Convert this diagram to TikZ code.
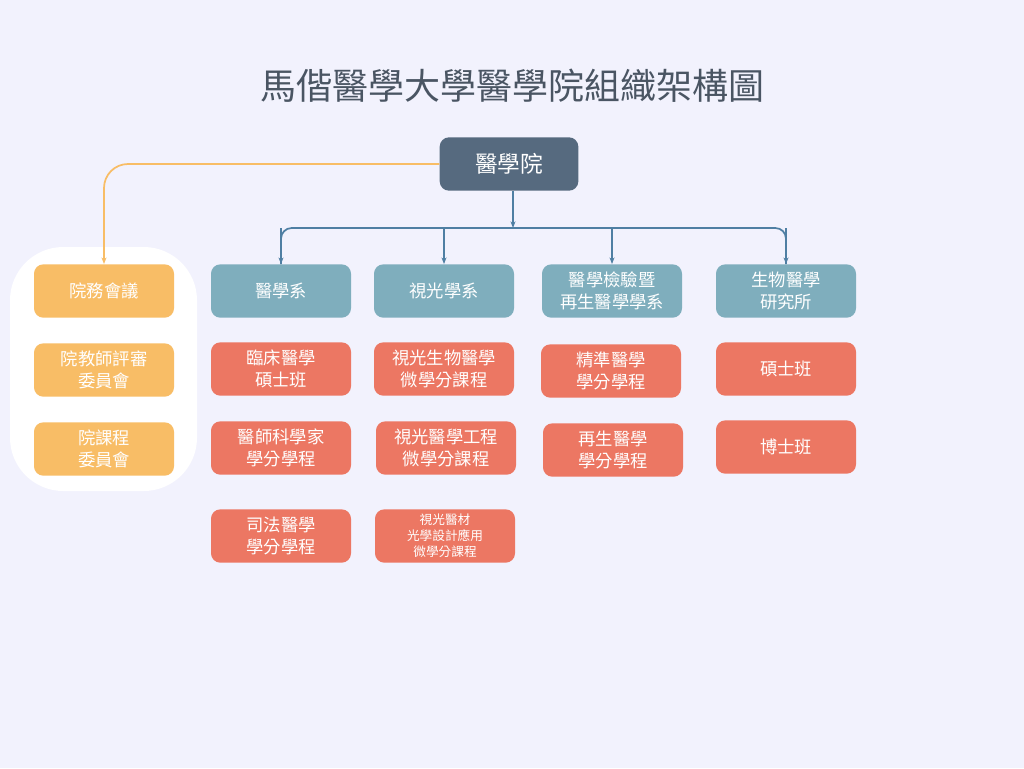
\documentclass[tikz,border=0pt]{standalone}
\usepackage{fontspec}
\newfontfamily\cjk{Noto Sans CJK TC}
\usetikzlibrary{arrows.meta}
\usetikzlibrary{positioning}
\definecolor{bgc}{HTML}{F2F2FD}
\definecolor{titlec}{HTML}{4A5563}
\definecolor{topc}{HTML}{566A7F}
\definecolor{deptc}{HTML}{7FAEBD}
\definecolor{progc}{HTML}{EC7763}
\definecolor{councilc}{HTML}{F8BD66}
\definecolor{linkc}{HTML}{4F7FA3}
\begin{document}
\begin{tikzpicture}[x=0.75pt,y=-0.75pt,font=\cjk,
  box/.style={rounded corners=7pt,minimum width=105pt,minimum height=40pt,text=white,align=center,font=\cjk\fontsize{13}{16}\selectfont,inner sep=1pt},
  council/.style={box,fill=councilc},
  dept/.style={box,fill=deptc},
  prog/.style={box,fill=progc},
  link/.style={linkc,line width=1.3pt,-{Stealth[length=5pt]},rounded corners=8pt}]
  \fill[bgc] (0,0) rectangle (1024,768);
  \useasboundingbox (0,0) rectangle (1024,768);
  \node[text=titlec,font=\cjk\fontsize{27}{30}\selectfont] (title) at (512,86) {馬偕醫學大學醫學院組織架構圖};
  \fill[white,rounded corners=40pt] (10,247) rectangle (197,491);
  \node[box,fill=topc,minimum width=104pt,font=\cjk\fontsize{17}{20}\selectfont] (top) at (509,164) {醫學院};
  % council column
  \node[council] (c1) at (104,291) {院務會議};
  \node[council] (c2) at (104,370) {院教師評審\\委員會};
  \node[council] (c3) at (104,449) {院課程\\委員會};
  % departments
  \node[dept] (d1) at (281,291) {醫學系};
  \node[dept] (d2) at (444,291) {視光學系};
  \node[dept] (d3) at (612,291) {醫學檢驗暨\\再生醫學學系};
  \node[dept] (d4) at (786,291) {生物醫學\\研究所};
  % programs
  \node[prog] (p11) at (281,369) {臨床醫學\\碩士班};
  \node[prog] (p12) at (281,448) {醫師科學家\\學分學程};
  \node[prog] (p13) at (281,536) {司法醫學\\學分學程};
  \node[prog] (p21) at (444,369) {視光生物醫學\\微學分課程};
  \node[prog] (p22) at (446,448) {視光醫學工程\\微學分課程};
  \node[prog,font=\cjk\fontsize{9.5}{12}\selectfont] (p23) at (445,536) {視光醫材\\光學設計應用\\微學分課程};
  \node[prog] (p31) at (611,371) {精準醫學\\學分學程};
  \node[prog] (p32) at (613,450) {再生醫學\\學分學程};
  \node[prog] (p41) at (786,369) {碩士班};
  \node[prog] (p42) at (786,447) {博士班};
  % connectors
  \draw[councilc,line width=1.3pt,-{Stealth[length=5pt]},rounded corners=18pt] (top.west) -| (c1.north);
  \coordinate (hub) at (513,228);
  \draw[link] (top.south -| hub) -- (hub);
  \draw[link,-] (hub) -| (d1.north);
  \draw[link,-] (hub) -| (d4.north);
  \draw[link] (hub -| d1.north) -- (d1.north);
  \draw[link] (hub -| d4.north) -- (d4.north);
  \draw[link] (hub -| d2.north) -- (d2.north);
  \draw[link] (hub -| d3.north) -- (d3.north);
\end{tikzpicture}
\end{document}
